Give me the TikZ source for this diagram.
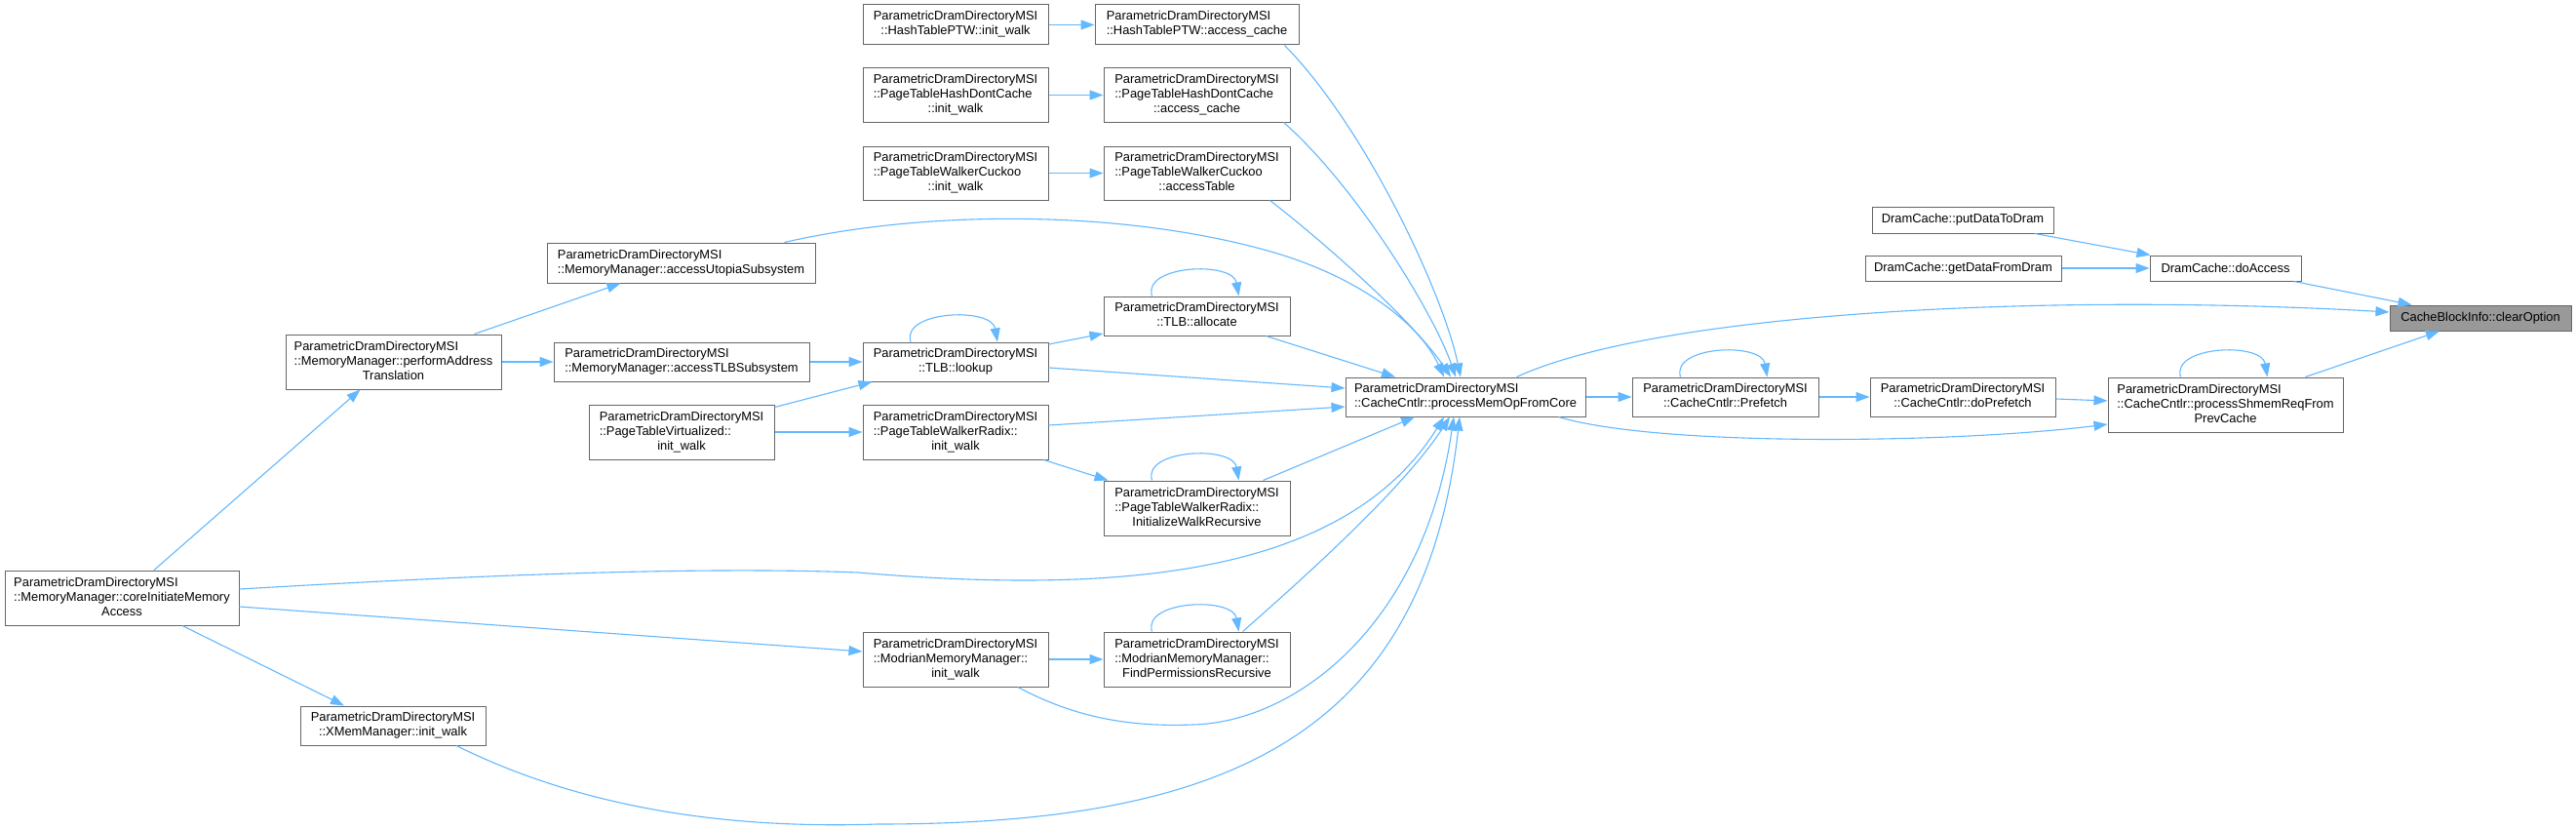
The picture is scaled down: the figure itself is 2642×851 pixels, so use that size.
\documentclass[tikz,border=0pt]{standalone}
\usepackage{fontspec}
\setmainfont{Liberation Sans}
\usetikzlibrary{arrows.meta,calc}
\definecolor{edgec}{HTML}{63B8FF}
\definecolor{boxc}{HTML}{666666}
\definecolor{hilite}{HTML}{999999}
\newcommand\twol[2]{\begin{tabular}{@{}l@{}}#1\\\multicolumn{1}{@{}c@{}}{#2}\end{tabular}}
\newcommand\threel[3]{\begin{tabular}{@{}l@{}}#1\\#2\\\multicolumn{1}{@{}c@{}}{#3}\end{tabular}}
\newcommand\PD{ParametricDramDirectoryMSI}
\newcommand\selfloop[1]{\draw[call] ($(#1.north)+(-46,0)$) .. controls +(-10,-32) and +(-6,-36) .. ($(#1.north)+(43,0)$);}
\begin{document}
\begin{tikzpicture}[x=1pt,y=-1pt,
  box/.style={draw=boxc,line width=1pt,fill=white,inner sep=0pt,font=\fontsize{12.9}{15}\selectfont},
  call/.style={draw=edgec,line width=1.1pt,-{Triangle[length=14pt,width=10pt]}}]
\useasboundingbox[fill=white] (0,0) rectangle (2642,851);

% nodes
\node[box,minimum width=190,minimum height=41] (hinit) at (980,25.5) {\twol{\PD}{::HashTablePTW::init\_walk}};
\node[box,minimum width=209,minimum height=41] (hacc) at (1227.5,25.5) {\twol{\PD}{::HashTablePTW::access\_cache}};
\node[box,minimum width=190,minimum height=55] (pdinit) at (980,97.5) {\threel{\PD}{::PageTableHashDontCache}{::init\_walk}};
\node[box,minimum width=191,minimum height=55] (pdacc) at (1227.5,97.5) {\threel{\PD}{::PageTableHashDontCache}{::access\_cache}};
\node[box,minimum width=190,minimum height=55] (ckinit) at (980,177.5) {\threel{\PD}{::PageTableWalkerCuckoo}{::init\_walk}};
\node[box,minimum width=191,minimum height=55] (ckacc) at (1227.5,177.5) {\threel{\PD}{::PageTableWalkerCuckoo}{::accessTable}};
\node[box,minimum width=275,minimum height=41] (utopia) at (698.5,269.5) {\twol{\PD}{::MemoryManager::accessUtopiaSubsystem}};
\node[box,minimum width=221,minimum height=56] (perf) at (403.5,371) {\threel{\PD}{::MemoryManager::performAddress}{Translation}};
\node[box,minimum width=262,minimum height=40] (tlbsub) at (699,371) {\twol{\PD}{::MemoryManager::accessTLBSubsystem}};
\node[box,minimum width=191,minimum height=40] (alloc) at (1227.5,324) {\twol{\PD}{::TLB::allocate}};
\node[box,minimum width=190,minimum height=40] (lookup) at (980,371) {\twol{\PD}{::TLB::lookup}};
\node[box,minimum width=190,minimum height=56] (virt) at (699,443) {\threel{\PD}{::PageTableVirtualized::}{init\_walk}};
\node[box,minimum width=190,minimum height=56] (radix) at (980,443) {\threel{\PD}{::PageTableWalkerRadix::}{init\_walk}};
\node[box,minimum width=191,minimum height=56] (initrec) at (1227.5,521) {\threel{\PD}{::PageTableWalkerRadix::}{InitializeWalkRecursive}};
\node[box,minimum width=240,minimum height=56] (core) at (125,613) {\threel{\PD}{::MemoryManager::coreInitiateMemory}{Access}};
\node[box,minimum width=190,minimum height=56] (modinit) at (980,676) {\threel{\PD}{::ModrianMemoryManager::}{init\_walk}};
\node[box,minimum width=191,minimum height=56] (findperm) at (1227.5,676) {\threel{\PD}{::ModrianMemoryManager::}{FindPermissionsRecursive}};
\node[box,minimum width=190,minimum height=40] (xmem) at (403,744) {\twol{\PD}{::XMemManager::init\_walk}};
\node[box,minimum width=246,minimum height=40] (pmem) at (1503,407) {\twol{\PD}{::CacheCntlr::processMemOpFromCore}};
\node[box,minimum width=191,minimum height=40] (prefetch) at (1769.5,407) {\twol{\PD}{::CacheCntlr::Prefetch}};
\node[box,minimum width=190,minimum height=40] (doprefetch) at (2013,407) {\twol{\PD}{::CacheCntlr::doPrefetch}};
\node[box,minimum width=241,minimum height=56] (shmem) at (2282.5,415) {\threel{\PD}{::CacheCntlr::processShmemReqFrom}{PrevCache}};
\node[box,minimum width=186,minimum height=27] (put) at (2013,225.5) {DramCache::putDataToDram};
\node[box,minimum width=201,minimum height=26] (get) at (2013.5,275) {DramCache::getDataFromDram};
\node[box,minimum width=155,minimum height=26] (doaccess) at (2282.5,275) {DramCache::doAccess};
\node[box,fill=hilite,minimum width=186,minimum height=26] (clear) at (2544,326) {CacheBlockInfo::clearOption};

% straight connectors
\draw[call] (hinit.east) -- (hacc.west);
\draw[call] (pdinit.east) -- (pdacc.west);
\draw[call] (ckinit.east) -- (ckacc.west);
\draw[call] (perf.east) -- (tlbsub.west);
\draw[call] (tlbsub.east) -- (lookup.west);
\draw[call] (virt.east) -- (radix.west);
\draw[call] (modinit.east) -- (findperm.west);
\draw[call] (pmem.east) -- (prefetch.west);
\draw[call] (prefetch.east) -- (doprefetch.west);
\draw[call] (get.east) -- (doaccess.west);
\draw[call] ($(doprefetch.east)+(0,2)$) -- ($(shmem.west)+(0,-4)$);
\draw[call] ($(perf.north)+(83,0)$) -- ($(utopia.south)+(-62,0)$);
\draw[call] ($(core.north)+(33,0)$) -- ($(perf.south)+(-34,0)$);
\draw[call] ($(core.south)+(62,0)$) -- ($(xmem.north)+(-50,0)$);
\draw[call] ($(core.east)+(0,9)$) -- ($(modinit.west)+(0,-8)$);
\draw[call] ($(lookup.east)+(0,-18)$) -- ($(alloc.west)+(0,18)$);
\draw[call] ($(lookup.east)+(0,6)$) -- ($(pmem.west)+(0,-9)$);
\draw[call] ($(radix.east)+(0,-7)$) -- ($(pmem.west)+(0,10)$);
\draw[call] ($(virt.north east)+(0,3)$) -- ($(lookup.south west)+(10,0)$);
\draw[call] ($(radix.south east)+(-5,0)$) -- ($(initrec.north west)+(5,0)$);
\draw[call] ($(alloc.south)+(71,0)$) -- ($(pmem.north)+(-72,0)$);
\draw[call] ($(initrec.north)+(68,0)$) -- ($(pmem.south)+(-52,0)$);
\draw[call] ($(put.south)+(74,0)$) -- ($(doaccess.north west)+(1,0)$);
\draw[call] ($(doaccess.south east)+(-8,0)$) -- ($(clear.north west)+(23,0)$);
\draw[call] ($(shmem.north)+(82,0)$) -- ($(clear.south)+(-42,0)$);

% curved connectors
\draw[call] ($(hacc.south east)+(-15,0)$) .. controls (1400,130) and (1480,300) .. ($(pmem.north)+(-5,0)$);
\draw[call] ($(pdacc.south east)+(-7,0)$) .. controls (1390,190) and (1470,320) .. ($(pmem.north)+(-10,0)$);
\draw[call] ($(ckacc.south east)+(-21,0)$) .. controls (1360,250) and (1450,330) .. ($(pmem.north)+(-15,0)$);
\draw[call] ($(utopia.north east)+(-32,0)$) .. controls (950,215) and (1150,215) .. (1300,257) .. controls (1390,282) and (1455,330) .. ($(pmem.north)+(-22,0)$);
\draw[call] ($(findperm.north)+(47,0)$) .. controls (1340,590) and (1440,500) .. ($(pmem.south)+(-16,0)$);
\draw[call] ($(modinit.south)+(64,0)$) .. controls (1110,740) and (1170,745) .. (1224,743) .. controls (1330,740) and (1460,640) .. ($(pmem.south)+(-12,0)$);
\draw[call] ($(core.east)+(0,-9)$) .. controls (450,592) and (700,580) .. (880,587) .. controls (1150,610) and (1380,590) .. ($(pmem.south)+(-22,0)$);
\draw[call] ($(xmem.south)+(65,0)$) .. controls (600,830) and (750,850) .. (900,845) .. controls (1250,845) and (1460,760) .. ($(pmem.south)+(-6,0)$);
\draw[call] ($(pmem.south east)+(-28,0)$) .. controls (1700,458) and (2000,455) .. ($(shmem.west)+(0,20)$);
\draw[call] ($(pmem.north east)+(-71,0)$) .. controls (1700,320) and (2100,300) .. ($(clear.west)+(0,-6)$);

% self loops
\selfloop{lookup}
\selfloop{alloc}
\selfloop{initrec}
\selfloop{findperm}
\selfloop{prefetch}
\selfloop{shmem}
\end{tikzpicture}
\end{document}
